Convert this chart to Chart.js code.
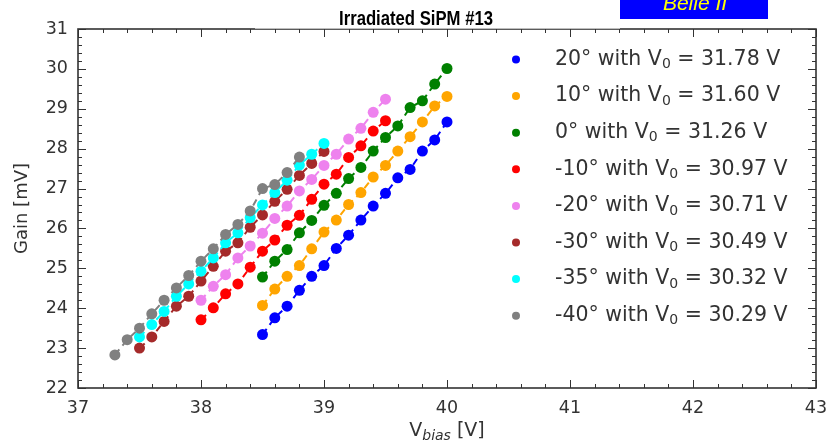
<!DOCTYPE html>
<html>
<head>
<meta charset="utf-8">
<script src="https://cdn.jsdelivr.net/npm/chart.js@4.4.1/dist/chart.umd.min.js"></script>
<style>
  body { margin: 0; background: #fff; }
  #wrap { width: 828px; height: 447px; }
</style>
</head>
<body>
<div id="wrap"><canvas id="gainChart" width="828" height="447"></canvas></div>
<script>
// bias voltages [V] for each temperature run
const vbias20 = [38.5, 38.6, 38.7, 38.8, 38.9, 39.0, 39.1, 39.2, 39.3, 39.4, 39.5, 39.6, 39.7, 39.8, 39.9, 40.0];
const vbias10 = [38.5, 38.6, 38.7, 38.8, 38.9, 39.0, 39.1, 39.2, 39.3, 39.4, 39.5, 39.6, 39.7, 39.8, 39.9, 40.0];
const vbias0 = [38.5, 38.6, 38.7, 38.8, 38.9, 39.0, 39.1, 39.2, 39.3, 39.4, 39.5, 39.6, 39.7, 39.8, 39.9, 40.0];
const vbiasM10 = [38.0, 38.1, 38.2, 38.3, 38.4, 38.5, 38.6, 38.7, 38.8, 38.9, 39.0, 39.1, 39.2, 39.3, 39.4, 39.5];
const vbiasM20 = [38.0, 38.1, 38.2, 38.3, 38.4, 38.5, 38.6, 38.7, 38.8, 38.9, 39.0, 39.1, 39.2, 39.3, 39.4, 39.5];
const vbiasM30 = [37.5, 37.6, 37.7, 37.8, 37.9, 38.0, 38.1, 38.2, 38.3, 38.4, 38.5, 38.6, 38.7, 38.8, 38.9, 39.0];
const vbiasM35 = [37.5, 37.6, 37.7, 37.8, 37.9, 38.0, 38.1, 38.2, 38.3, 38.4, 38.5, 38.6, 38.7, 38.8, 38.9, 39.0];
const vbiasM40 = [37.3, 37.4, 37.5, 37.6, 37.7, 37.8, 37.9, 38.0, 38.1, 38.2, 38.3, 38.4, 38.5, 38.6, 38.7, 38.8];

// gain [mV]
const gain20 = [23.34, 23.76, 24.05, 24.45, 24.80, 25.07, 25.50, 25.83, 26.21, 26.56, 26.88, 27.27, 27.48, 27.94, 28.22, 28.67];
const gain10 = [24.07, 24.48, 24.80, 25.07, 25.49, 25.91, 26.21, 26.60, 26.90, 27.29, 27.58, 27.94, 28.30, 28.67, 29.07, 29.31];
const gain0 = [24.78, 25.18, 25.47, 25.89, 26.20, 26.58, 26.88, 27.25, 27.53, 27.94, 28.28, 28.57, 29.03, 29.20, 29.62, 30.01];
const gainM10 = [23.71, 24.01, 24.36, 24.61, 25.03, 25.43, 25.71, 26.08, 26.33, 26.73, 27.11, 27.36, 27.78, 28.07, 28.44, 28.70];
const gainM20 = [24.20, 24.55, 24.84, 25.26, 25.56, 25.88, 26.25, 26.56, 26.94, 27.23, 27.58, 27.86, 28.24, 28.51, 28.91, 29.24];
const gainM30 = [23.00, 23.28, 23.67, 24.05, 24.30, 24.68, 25.05, 25.43, 25.64, 26.03, 26.34, 26.68, 26.98, 27.33, 27.63, 27.93];
const gainM35 = [23.28, 23.59, 23.92, 24.30, 24.61, 24.93, 25.26, 25.64, 25.89, 26.27, 26.59, 26.90, 27.21, 27.59, 27.86, 28.13];
const gainM40 = [22.83, 23.21, 23.50, 23.86, 24.20, 24.51, 24.82, 25.18, 25.49, 25.85, 26.10, 26.44, 27.00, 27.10, 27.40, 27.79];

const tempLabels = ['20°', '10°', '0°', '-10°', '-20°', '-30°', '-35°', '-40°'];
const v0Values = ['31.78', '31.60', '31.26', '30.97', '30.71', '30.49', '30.32', '30.29'];
const seriesColors = ['#0000ff', '#ffa500', '#008000', '#ff0000', '#ee82ee', '#a52a2a', '#00ffff', '#808080'];
const xTicks = [37, 38, 39, 40, 41, 42, 43];
const yTicks = [22, 23, 24, 25, 26, 27, 28, 29, 30, 31];

const xs = [vbias20, vbias10, vbias0, vbiasM10, vbiasM20, vbiasM30, vbiasM35, vbiasM40];
const ys = [gain20, gain10, gain0, gainM10, gainM20, gainM30, gainM35, gainM40];

const TEXT = '#333333';
const FONT = '"DejaVu Sans", sans-serif';

const datasets = xs.map((xv, i) => ({
  label: tempLabels[i] + ' with V0 = ' + v0Values[i] + ' V',
  data: xv.map((x, k) => ({ x: x, y: ys[i][k] })),
  showLine: true,
  borderColor: seriesColors[i],
  backgroundColor: seriesColors[i],
  borderWidth: 2,
  borderDash: [7, 5],
  pointRadius: 5.5,
  pointBorderWidth: 0,
  pointHoverRadius: 5.5,
  order: xs.length - i
}));

// box, inward ticks on all four sides, legend, titles
const decorations = {
  id: 'decorations',
  afterDraw(chart) {
    const ctx = chart.ctx;
    const a = chart.chartArea;
    const sx = chart.scales.x, sy = chart.scales.y;
    ctx.save();
    ctx.strokeStyle = TEXT;
    ctx.lineWidth = 1;
    ctx.beginPath();
    for (let v = 37; v <= 43.001; v += 0.2) {
      const px = Math.round(sx.getPixelForValue(v)) + 0.5;
      const major = Math.abs(v - Math.round(v)) < 1e-6;
      const len = major ? 8 : 4;
      ctx.moveTo(px, a.bottom); ctx.lineTo(px, a.bottom - len);
      ctx.moveTo(px, a.top); ctx.lineTo(px, a.top + len);
    }
    for (let v = 22; v <= 31.001; v += 0.2) {
      const py = Math.round(sy.getPixelForValue(v)) + 0.5;
      const major = Math.abs(v - Math.round(v)) < 1e-6;
      const len = major ? 8 : 4;
      ctx.moveTo(a.left, py); ctx.lineTo(a.left + len, py);
      ctx.moveTo(a.right, py); ctx.lineTo(a.right - len, py);
    }
    ctx.stroke();
    ctx.lineWidth = 1.6;
    ctx.strokeRect(a.left, a.top, a.right - a.left, a.bottom - a.top);

    // white title box over the top spine
    ctx.fillStyle = '#ffffff';
    ctx.fillRect(255, 0, 365, 28.6);
    ctx.fillStyle = '#000000';
    ctx.font = 'bold 20px "Liberation Sans Narrow", "Liberation Sans", sans-serif';
    ctx.textAlign = 'left';
    ctx.textBaseline = 'alphabetic';
    const tt = 'Irradiated SiPM #13';
    const tw = ctx.measureText(tt).width;
    const sc = 154 / tw;
    ctx.save();
    ctx.translate(339, 25);
    ctx.scale(sc, 1);
    ctx.fillText(tt, 0, 0);
    ctx.restore();

    // Belle II tag
    ctx.fillStyle = '#0000ff';
    ctx.fillRect(620, 0, 148, 19);
    ctx.fillStyle = '#ffff00';
    ctx.textAlign = 'center';
    ctx.font = 'italic 21px "Liberation Sans", sans-serif';
    ctx.fillText('Belle II', 695, 10);

    // x axis title: V_bias [V]
    ctx.fillStyle = TEXT;
    ctx.textAlign = 'left';
    ctx.font = '19px ' + FONT;
    const w1 = ctx.measureText('V').width;
    ctx.font = 'italic 14px ' + FONT;
    const w2 = ctx.measureText('bias').width;
    ctx.font = '19px ' + FONT;
    const w3 = ctx.measureText(' [V]').width;
    let tx = 447 - (w1 + w2 + w3) / 2;
    ctx.fillText('V', tx, 436);
    ctx.font = 'italic 14px ' + FONT;
    ctx.fillText('bias', tx + w1, 440);
    ctx.font = '19px ' + FONT;
    ctx.fillText(' [V]', tx + w1 + w2, 436);

    // legend
    ctx.textBaseline = 'middle';
    for (let i = 0; i < tempLabels.length; i++) {
      const y = 59.5 + i * 36.6;
      ctx.fillStyle = seriesColors[i];
      ctx.beginPath();
      ctx.arc(516, y, 4, 0, Math.PI * 2);
      ctx.fill();
      ctx.fillStyle = TEXT;
      let x = 555;
      ctx.font = '20.5px ' + FONT;
      const p1 = tempLabels[i] + ' with V';
      ctx.fillText(p1, x, y);
      x += ctx.measureText(p1).width;
      ctx.font = '14px ' + FONT;
      ctx.fillText('0', x, y + 5);
      x += ctx.measureText('0').width;
      ctx.font = '20.5px ' + FONT;
      ctx.fillText(' = ' + v0Values[i] + ' V', x, y);
    }
    ctx.restore();
  }
};

new Chart(document.getElementById('gainChart'), {
  type: 'scatter',
  data: { datasets: datasets },
  options: {
    responsive: false,
    animation: false,
    devicePixelRatio: 1,
    layout: { padding: { top: 29, right: 12, left: 0, bottom: 0 } },
    plugins: { legend: { display: false }, tooltip: { enabled: false } },
    scales: {
      x: {
        type: 'linear',
        min: 37,
        max: 43,
        afterBuildTicks: s => { s.ticks = xTicks.map(v => ({ value: v })); },
        afterFit: s => { s.height = 59; s.paddingLeft = 0; s.paddingRight = 0; },
        grid: { display: false, drawTicks: false },
        border: { display: false },
        ticks: { color: TEXT, font: { family: FONT, size: 17.5 }, padding: 10, maxRotation: 0 }
      },
      y: {
        type: 'linear',
        min: 22,
        max: 31,
        afterBuildTicks: s => { s.ticks = yTicks.map(v => ({ value: v })); },
        afterFit: s => { s.width = 78; },
        grid: { display: false, drawTicks: false },
        border: { display: false },
        ticks: { color: TEXT, font: { family: FONT, size: 17.5 }, padding: 10 },
        title: { display: true, text: 'Gain [mV]', color: TEXT, font: { family: FONT, size: 18 }, padding: { top: 12, bottom: 0 } }
      }
    }
  },
  plugins: [decorations]
});
</script>
</body>
</html>
